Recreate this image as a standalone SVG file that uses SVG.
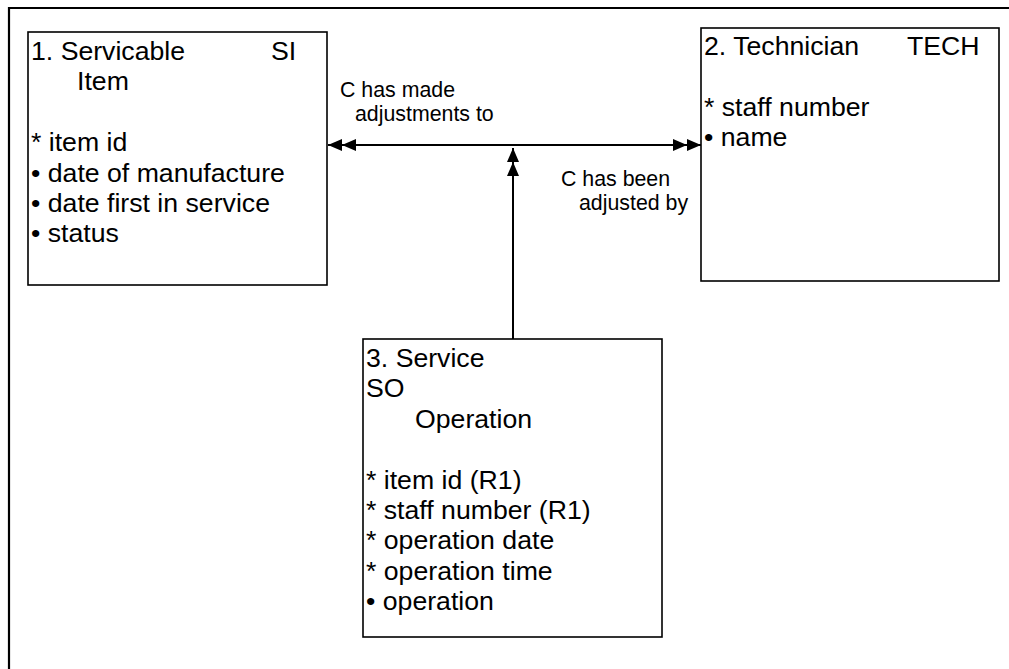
<svg xmlns="http://www.w3.org/2000/svg" width="1009" height="669" viewBox="0 0 1009 669">
<style>
.box{fill:#fff;stroke:#000;stroke-width:1.6}
.t{font-family:"Liberation Sans",Arial,sans-serif;font-size:26.67px;fill:#000}
.lbl{font-family:"Liberation Sans",Arial,sans-serif;font-size:21.33px;fill:#000}
.conn{stroke:#000;stroke-width:2;fill:none}
.frame{stroke:#000;stroke-width:2.2;fill:none}
</style>
<defs>
<marker id="dbl" markerUnits="userSpaceOnUse" markerWidth="30" markerHeight="14" refX="28" refY="6" orient="auto-start-reverse">
<path d="M0,0 L14,6 L0,12 Z M14,0 L28,6 L14,12 Z" fill="#000"/>
</marker>
</defs>
<rect width="1009" height="669" fill="#fff"/>
<path class="frame" d="M9,669 L9,8 L1009,8"/>
<g id="connectors">
<line class="conn" x1="328" y1="145" x2="701" y2="145" marker-start="url(#dbl)" marker-end="url(#dbl)"/>
<line class="conn" x1="513" y1="339" x2="513" y2="148" marker-end="url(#dbl)"/>
<text class="lbl" x="340" y="97">C has made</text>
<text class="lbl" x="355" y="121">adjustments to</text>
<text class="lbl" x="561" y="186">C has been</text>
<text class="lbl" x="579" y="210">adjusted by</text>
</g>
<g id="node1">
<rect class="box" x="28" y="32" width="299" height="253"/>
<text class="t" x="31" y="60">1. Servicable</text>
<text class="t" x="271" y="60">SI</text>
<text class="t" x="77" y="90.4">Item</text>
<text class="t" x="31" y="151.2">* item id</text>
<text class="t" x="31" y="181.6">• date of manufacture</text>
<text class="t" x="31" y="212">• date first in service</text>
<text class="t" x="31" y="242.4">• status</text>
</g>
<g id="node2">
<rect class="box" x="701" y="28" width="298" height="253"/>
<text class="t" x="704" y="55">2. Technician</text>
<text class="t" x="907" y="55">TECH</text>
<text class="t" x="704" y="115.8">* staff number</text>
<text class="t" x="704" y="146.2">• name</text>
</g>
<g id="node3">
<rect class="box" x="363" y="339" width="299" height="298"/>
<text class="t" x="366" y="367">3. Service</text>
<text class="t" x="366" y="397.4">SO</text>
<text class="t" x="415" y="427.8">Operation</text>
<text class="t" x="366" y="488.6">* item id (R1)</text>
<text class="t" x="366" y="519">* staff number (R1)</text>
<text class="t" x="366" y="549.4">* operation date</text>
<text class="t" x="366" y="579.8">* operation time</text>
<text class="t" x="366" y="610.2">• operation</text>
</g>
</svg>
